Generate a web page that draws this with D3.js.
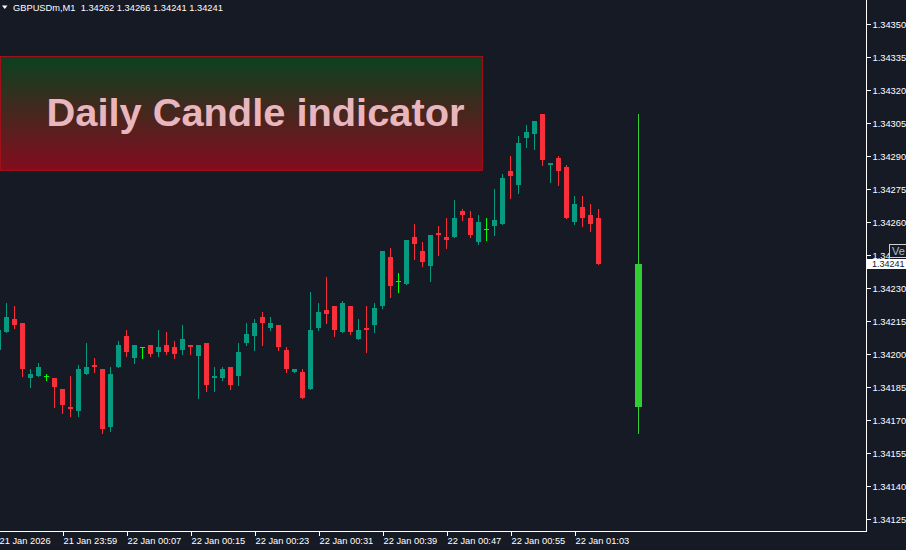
<!DOCTYPE html>
<html>
<head>
<meta charset="utf-8">
<script src="https://cdn.jsdelivr.net/npm/d3@7"></script>
<style>
  html, body { margin: 0; padding: 0; background: #161a25; }
  svg { display: block; }
</style>
</head>
<body>
<svg id="chart" width="906" height="550"></svg>
<script>
// ---------- DATA ----------
const symbolTitle = "GBPUSDm,M1";
const headerValues = ["1.34262", "1.34266", "1.34241", "1.34241"];
const bannerText = "Daily Candle indicator";

const times = [
  "23:51","23:52","23:53","23:54","23:55","23:56","23:57","23:58","23:59",
  "00:00","00:01","00:02","00:03","00:04","00:05","00:06","00:07","00:08","00:09",
  "00:10","00:11","00:12","00:13","00:14","00:15","00:16","00:17","00:18","00:19",
  "00:20","00:21","00:22","00:23","00:24","00:25","00:26","00:27","00:28","00:29",
  "00:30","00:31","00:32","00:33","00:34","00:35","00:36","00:37","00:38","00:39",
  "00:40","00:41","00:42","00:43","00:44","00:45","00:46","00:47","00:48","00:49",
  "00:50","00:51","00:52","00:53","00:54","00:55","00:56","00:57","00:58","00:59",
  "01:00","01:01","01:02","01:03","01:04","01:05","01:06"
];
const opens = [
  1.34202,1.34210,1.34216,1.34214,1.34189,1.34190,1.34190,1.34189,1.34184,1.34176,
  1.34174,1.34191,1.34195,1.34193,1.34167,1.34194,1.34208,1.34198,1.34203,1.34204,
  1.34201,1.34204,1.34203,1.34202,1.34204,1.34199,1.34205,1.34189,1.34189,1.34194,
  1.34190,1.34205,1.34208,1.34217,1.34212,1.34213,1.34202,1.34192,1.34192,1.34184,
  1.34212,1.34220,1.34222,1.34210,1.34222,1.34207,1.34212,1.34213,1.34222,1.34244,
  1.34233,1.34232,1.34253,1.34247,1.34240,1.34255,1.34253,1.34253,1.34265,1.34262,
  1.34251,1.34257,1.34258,1.34259,1.34283,1.34277,1.34298,1.34300,1.34309,1.34286,
  1.34289,1.34285,1.34260,1.34267,1.34263,1.34262
];
const highs = [
  1.34212,1.34223,1.34222,1.34214,1.34193,1.34196,1.34191,1.34189,1.34184,1.34190,
  1.34195,1.34205,1.34198,1.34193,1.34194,1.34206,1.34211,1.34204,1.34203,1.34204,
  1.34211,1.34210,1.34206,1.34213,1.34204,1.34204,1.34205,1.34194,1.34194,1.34194,
  1.34205,1.34214,1.34216,1.34219,1.34217,1.34213,1.34203,1.34193,1.34193,1.34228,
  1.34223,1.34235,1.34222,1.34224,1.34222,1.34216,1.34222,1.34223,1.34247,1.34248,
  1.34237,1.34252,1.34259,1.34251,1.34254,1.34258,1.34262,1.34270,1.34266,1.34265,
  1.34263,1.34262,1.34275,1.34282,1.34290,1.34299,1.34304,1.34306,1.34309,1.34287,
  1.34290,1.34286,1.34272,1.34272,1.34268,1.34266
];
const lows = [
  1.34201,1.34210,1.34212,1.34190,1.34185,1.34190,1.34188,1.34176,1.34173,1.34172,
  1.34172,1.34191,1.34192,1.34164,1.34165,1.34194,1.34199,1.34196,1.34198,1.34199,
  1.34199,1.34200,1.34198,1.34200,1.34200,1.34180,1.34183,1.34183,1.34188,1.34184,
  1.34186,1.34204,1.34202,1.34204,1.34211,1.34202,1.34192,1.34192,1.34180,1.34184,
  1.34211,1.34214,1.34208,1.34210,1.34209,1.34207,1.34201,1.34210,1.34221,1.34226,
  1.34228,1.34232,1.34243,1.34240,1.34233,1.34245,1.34248,1.34253,1.34261,1.34253,
  1.34250,1.34252,1.34254,1.34259,1.34271,1.34273,1.34294,1.34293,1.34286,1.34278,
  1.34277,1.34262,1.34259,1.34258,1.34256,1.34241
];
const closes = [
  1.34211,1.34217,1.34213,1.34193,1.34191,1.34194,1.34190,1.34185,1.34177,1.34175,
  1.34193,1.34194,1.34194,1.34166,1.34191,1.34204,1.34201,1.34204,1.34203,1.34200,
  1.34203,1.34201,1.34200,1.34207,1.34203,1.34204,1.34186,1.34190,1.34193,1.34186,
  1.34201,1.34209,1.34214,1.34214,1.34214,1.34203,1.34193,1.34193,1.34180,1.34211,
  1.34219,1.34218,1.34211,1.34223,1.34210,1.34211,1.34211,1.34221,1.34247,1.34231,
  1.34233,1.34252,1.34250,1.34242,1.34254,1.34254,1.34252,1.34262,1.34263,1.34254,
  1.34260,1.34257,1.34261,1.34280,1.34281,1.34296,1.34301,1.34306,1.34288,1.34287,
  1.34283,1.34262,1.34268,1.34262,1.34259,1.34241
];

// Daily candle drawn by the indicator
const dailyTime = "01:11";
const dailyOpen = 1.34176, dailyHigh = 1.34309, dailyLow = 1.34164, dailyClose = 1.34241;

// Axis ticks
const yTicks = [1.34125,1.34140,1.34155,1.34170,1.34185,1.34200,1.34215,1.34230,
                1.34245,1.34260,1.34275,1.34290,1.34305,1.34320,1.34335,1.34350];
const xTickTimes = ["23:51","23:59","00:07","00:15","00:23","00:31","00:39","00:47","00:55","01:03"];
const xTickLabels = ["21 Jan 2026","21 Jan 23:59","22 Jan 00:07","22 Jan 00:15","22 Jan 00:23",
                     "22 Jan 00:31","22 Jan 00:39","22 Jan 00:47","22 Jan 00:55","22 Jan 01:03"];
const currentPrice = "1.34241";

// ---------- STYLE ----------
const BG = "#161a25";
const UP = "#089981";
const DOWN = "#f8303c";
const DOJI = "#00ff00";
const DAILY = "#32cd32";
const AXIS = "#ffffff";
const FONT = "'Liberation Sans', Arial, sans-serif";

// ---------- SCALES ----------
function toDate(hm) {
  const [h, m] = hm.split(":").map(Number);
  return h >= 12 ? new Date(2026, 0, 21, h, m) : new Date(2026, 0, 22, h, m);
}
const x = d3.scaleTime()
  .domain([toDate(times[0]), toDate(times[times.length - 1])])
  .range([-1.5, 598.5]);
const y = d3.scaleLinear().domain([1.34125, 1.34350]).range([519, 24]);

const svg = d3.select("#chart");
svg.append("rect").attr("width", 906).attr("height", 550).attr("fill", BG);

const defs = svg.append("defs");
const grad = defs.append("linearGradient").attr("id", "bannerGrad")
  .attr("x1", 0).attr("y1", 0).attr("x2", 0).attr("y2", 1);
grad.append("stop").attr("offset", 0).attr("stop-color", "#0a411e");
grad.append("stop").attr("offset", 1).attr("stop-color", "#840c1e");
defs.append("clipPath").attr("id", "plotClip")
  .append("rect").attr("x", 0).attr("y", 0).attr("width", 866).attr("height", 531);
defs.append("clipPath").attr("id", "hiddenLabelClip")
  .append("rect").attr("x", 0).attr("y", 0).attr("width", 889).attr("height", 258);

// ---------- CANDLES ----------
const candles = times.map((t, i) => ({
  t: toDate(t), o: opens[i], h: highs[i], l: lows[i], c: closes[i]
}));

const plot = svg.append("g").attr("clip-path", "url(#plotClip)");
const px = v => Math.round(y(v));

const g = plot.selectAll("g.candle").data(candles).join("g").attr("class", "candle");
g.each(function(d) {
  const sel = d3.select(this);
  const cx = x(d.t);
  const doji = d.o === d.c;
  const col = doji ? DOJI : (d.c > d.o ? UP : DOWN);
  sel.append("line")
    .attr("x1", cx).attr("x2", cx)
    .attr("y1", px(d.h)).attr("y2", px(d.l) + 1)
    .attr("stroke", col).attr("stroke-width", 1).attr("shape-rendering", "crispEdges");
  if (doji) {
    sel.append("line")
      .attr("x1", cx - 2.5).attr("x2", cx + 2.5)
      .attr("y1", px(d.o) + 0.5).attr("y2", px(d.o) + 0.5)
      .attr("stroke", col).attr("stroke-width", 1).attr("shape-rendering", "crispEdges");
  } else {
    const top = px(Math.max(d.o, d.c)), bot = px(Math.min(d.o, d.c));
    sel.append("rect")
      .attr("x", cx - 2.5).attr("y", top)
      .attr("width", 5).attr("height", Math.max(2, bot - top))
      .attr("fill", col).attr("shape-rendering", "crispEdges");
  }
});

// Daily candle
const dcx = x(toDate(dailyTime));
plot.append("line")
  .attr("x1", dcx).attr("x2", dcx)
  .attr("y1", px(dailyHigh)).attr("y2", px(dailyLow) + 1)
  .attr("stroke", DAILY).attr("stroke-width", 1).attr("shape-rendering", "crispEdges");
plot.append("rect")
  .attr("x", dcx - 3.5).attr("y", px(Math.max(dailyOpen, dailyClose)))
  .attr("width", 7)
  .attr("height", px(Math.min(dailyOpen, dailyClose)) - px(Math.max(dailyOpen, dailyClose)))
  .attr("fill", DAILY).attr("shape-rendering", "crispEdges");

// ---------- BANNER ----------
svg.append("rect")
  .attr("x", 0.5).attr("y", 56.5).attr("width", 482).attr("height", 114)
  .attr("fill", "url(#bannerGrad)").attr("stroke", "#a0101a").attr("stroke-width", 1);
svg.append("text")
  .attr("x", 46.5).attr("y", 126)
  .attr("font-family", FONT).attr("font-weight", "bold").attr("font-size", 38)
  .attr("fill", "#e9b6bd")
  .attr("textLength", 418).attr("lengthAdjust", "spacingAndGlyphs")
  .text(bannerText);

// ---------- FRAME & AXES ----------
svg.append("line").attr("x1", 866.5).attr("x2", 866.5).attr("y1", 0).attr("y2", 532)
  .attr("stroke", AXIS).attr("shape-rendering", "crispEdges");
svg.append("line").attr("x1", 0).attr("x2", 867).attr("y1", 531.5).attr("y2", 531.5)
  .attr("stroke", AXIS).attr("shape-rendering", "crispEdges");

const yAxis = d3.axisRight(y).tickValues(yTicks).tickSize(4).tickPadding(2)
  .tickFormat(d3.format(".5f"));
const yg = svg.append("g").attr("transform", "translate(866.5,0)").call(yAxis);
yg.select(".domain").remove();
yg.selectAll(".tick line").attr("stroke", AXIS).attr("shape-rendering", "crispEdges");
yg.selectAll(".tick text").attr("fill", AXIS).attr("font-family", FONT).attr("font-size", 9.3)
  .attr("dy", "0.35em");
// the 1.34245 label sits behind the tooltip box: only "1.34" shows
yg.selectAll(".tick").filter(d => d === 1.34245).select("text").text("1.34");

const xAxis = d3.axisBottom(x).tickValues(xTickTimes.map(toDate)).tickSize(4).tickPadding(2)
  .tickFormat((d, i) => xTickLabels[i]);
const xg = svg.append("g").attr("transform", "translate(0,531.5)").call(xAxis);
xg.select(".domain").remove();
xg.selectAll(".tick line").attr("stroke", AXIS).attr("shape-rendering", "crispEdges");
xg.selectAll(".tick text").attr("fill", AXIS).attr("font-family", FONT).attr("font-size", 9.3)
  .attr("text-anchor", "start").attr("x", 0.5).attr("y", 6).attr("dy", "0.71em");

// Current price label and tooltip box
const cpY = y(+currentPrice);
svg.append("rect").attr("x", 867).attr("y", Math.round(cpY) - 5).attr("width", 39).attr("height", 10)
  .attr("fill", "#ffffff");
svg.append("text").attr("x", 872).attr("y", cpY + 0.5).attr("dy", "0.35em")
  .attr("font-family", FONT).attr("font-size", 9).attr("fill", BG).text(currentPrice);
svg.append("rect").attr("x", 889.5).attr("y", 244.5).attr("width", 20).attr("height", 13)
  .attr("fill", BG).attr("stroke", "#d0d0d0");
svg.append("text").attr("x", 892).attr("y", 251).attr("dy", "0.35em")
  .attr("font-family", FONT).attr("font-size", 11).attr("fill", "#a8c0dc").text("Ve");

// ---------- HEADER ----------
svg.append("path").attr("d", "M2,5.5 L7.5,5.5 L4.75,9 Z").attr("fill", "#ffffff");
svg.append("text").attr("x", 13).attr("y", 11)
  .attr("font-family", FONT).attr("font-size", 9.3).attr("fill", "#ffffff")
  .attr("xml:space", "preserve")
  .text(symbolTitle + "  " + headerValues.join(" "));
</script>
</body>
</html>
